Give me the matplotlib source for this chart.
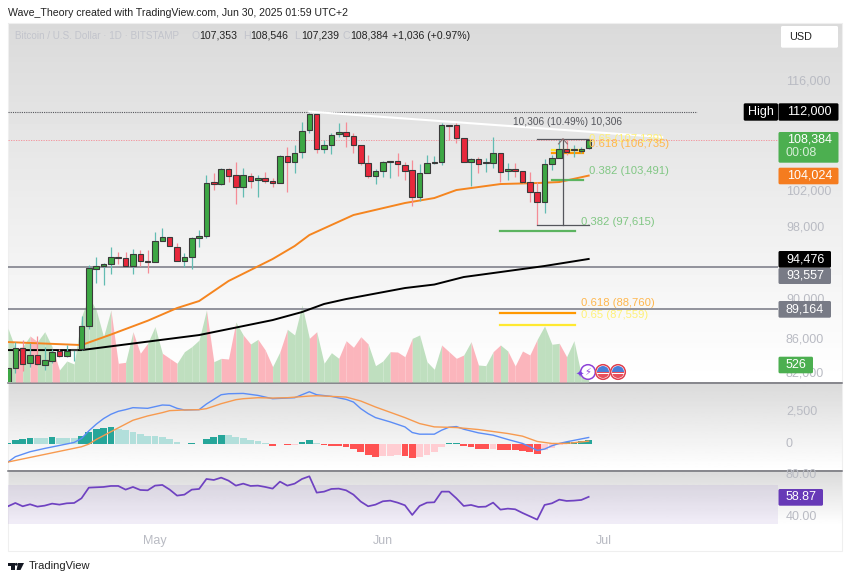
import numpy as np
import matplotlib
matplotlib.use("Agg")
import matplotlib.pyplot as plt
from matplotlib.patches import Circle, FancyBboxPatch, Polygon, Rectangle, Wedge

plt.rcParams['font.family'] = ['Liberation Sans', 'DejaVu Sans']

W, H = 850, 581

# day 0 is May 1
days = np.arange(-20, 60)
opens = [81980, 83293, 85238, 83775, 84552, 83582, 83968, 84943, 84455, 85040,
         85139, 87440, 93388, 93712, 93928, 94685, 94575, 93712, 95015, 94252,
         94144, 96454, 96901, 95788, 94252, 94685, 96789, 97013, 103253, 103015,
         104812, 104093, 102658, 103973, 103491, 103733, 103372, 103134, 106401, 105666,
         106893, 109643, 111690, 107259, 107759, 109139, 109391, 108887, 107759, 105544,
         103973, 104573, 105666, 105788, 105300, 104693, 101481, 104333, 105544, 105666,
         110282, 110282, 108636, 105666, 106032, 105544, 105544, 106770, 104573, 104812,
         104573, 103253, 102069, 100898, 105422, 106155, 107259, 107139, 107016, 107353]
highs = [83293, 85832, 86030, 85733, 86430, 85337, 85139, 85139, 85535, 85139,
         88450, 93820, 94685, 94036, 95788, 95235, 95235, 95566, 95455, 95455,
         97461, 97911, 96901, 96232, 95125, 96901, 97685, 104093, 104333, 104934,
         104934, 105666, 104934, 104333, 104093, 104453, 103733, 106524, 107509, 107759,
         110663, 111816, 111690, 108384, 109265, 110536, 110663, 109265, 107759, 106524,
         104812, 105788, 105788, 106770, 105666, 105910, 105422, 106524, 106401, 110536,
         110282, 110536, 108636, 106155, 106278, 106155, 108762, 106770, 105544, 105544,
         104573, 104453, 103253, 106032, 106524, 108384, 108384, 107759, 107509, 108546]
lows = [81980, 82814, 83005, 83389, 83582, 83100, 83775, 84357, 84357, 83968,
        85040, 87138, 91887, 91675, 92847, 93928, 93712, 92847, 93712, 92954,
        94144, 96454, 95899, 94252, 93604, 93388, 95788, 96789, 102303, 102896,
        103253, 100666, 101481, 102539, 101481, 103134, 102658, 103134, 102069, 104333,
        106155, 109265, 106770, 106770, 106647, 108762, 107509, 106770, 105300, 103733,
        103015, 103853, 103733, 103973, 103491, 100434, 101014, 104333, 105422, 105300,
        108384, 108009, 105666, 102777, 104333, 104453, 104934, 103253, 103491, 103853,
        103134, 100898, 98255, 99623, 104693, 106155, 106524, 106278, 106770, 107239]
closes = [83293, 85238, 83679, 84552, 83679, 84065, 84845, 84455, 84943, 85139,
          87440, 93496, 93712, 93928, 94685, 94575, 93712, 95015, 94252, 94144,
          96454, 96901, 95899, 94252, 94685, 96789, 97013, 103134, 103015, 104812,
          103973, 102658, 104093, 103372, 103733, 103372, 103134, 106401, 105666, 106770,
          109517, 111690, 107259, 107759, 109013, 109391, 108887, 107759, 105544, 103973,
          104573, 105666, 105788, 105422, 104573, 101481, 104333, 105544, 105666, 110282,
          110150, 108636, 105666, 106032, 105422, 105620, 106770, 104453, 104812, 104573,
          103253, 102069, 100898, 105422, 106155, 107259, 106893, 107259, 107259, 108384]
volumes = [7030, 4410, 4630, 6030, 5280, 6590, 4630, 1570, 2750, 2360,
           8560, 11180, 9430, 5940, 9430, 2450, 2580, 6590, 3760, 5070,
           7250, 3760, 3100, 2450, 3970, 4630, 5500, 9430, 2660, 3100,
           3010, 7860, 6160, 4980, 5590, 4190, 2010, 3970, 6900, 6160,
           10090, 5720, 6590, 2450, 3840, 3100, 5410, 4550, 5930, 4980,
           2140, 2750, 3970, 3930, 3310, 5720, 6160, 2660, 1660, 4850,
           3970, 3100, 3540, 5280, 2230, 2140, 3970, 4850, 4060, 2100,
           4060, 3540, 5590, 7340, 4940, 5070, 3310, 5410, 920, 526]

ma50_days = [-20, -10, -6, -1, 3, 6, 10, 16, 19, 21, 27, 34, 38, 41, 47, 52, 55, 59]
ma50_vals = [85832, 85535, 86580, 87970, 89270, 89995, 92100, 94470, 95899, 97125,
             99395, 100782, 101364, 102303, 103015, 103134, 103253, 104024]
ma200_days = [-20, -10, 6, 11, 16, 20, 23, 26, 34, 38, 42, 47, 53, 59]
ma200_vals = [85040, 85040, 86530, 87280, 88040, 88860, 89690, 90204, 91357, 91727,
              92526, 93061, 93712, 94476]

macd_hist = [80, 312, 416, 520, 500, 490, 572, 520, 510, 468,
             650, 1014, 1248, 1326, 1352, 1222, 1118, 988, 832, 660,
             650, 600, 416, 208, 26, 104, 52, 416, 572, 728,
             702, 572, 468, 338, 234, 78, -104, 52, -50, -26,
             182, 364, 130, -52, -104, -110, -208, -364, -598, -858,
             -962, -910, -884, -860, -910, -1040, -962, -806, -624, -234,
             78, 90, -104, -208, -338, -345, -330, -416, -420, -442,
             -520, -624, -728, -468, -260, -26, 182, 190, 234, 338]
macd_days = [-20, -19, -17, -15, -13, -11, -10, -9, -8, -7, -6, -5, -4, -3, -1, 1, 2, 3, 4, 6,
             7, 9, 10, 12, 14, 16, 18, 19, 21, 22, 24, 26, 27, 28, 29, 30, 32, 34, 35, 36,
             38, 39, 40, 41, 42, 44, 46, 48, 50, 51, 52, 53, 54, 55, 56, 59]
macd_vals = [-1378, -962, -572, -312, -78, 156, 468, 1066, 1586, 2028, 2366, 2600, 2730, 2886,
             2834, 3094, 3068, 2834, 2704, 2730, 3172, 3900, 3978, 4004, 3848, 3588, 3640, 3666,
             4134, 3900, 3770, 3536, 3328, 2808, 2418, 2106, 1768, 1378, 936, 806, 806, 1118,
             1352, 1404, 1196, 910, 728, 390, 78, -182, -468, -364, -104, 78, 208, 546]
signal_days = [-20, -10, -9, -8, -5, -3, -1, 1, 2, 4, 6, 7, 9, 11, 12, 14, 16, 18, 21, 22,
               26, 28, 30, 34, 36, 38, 41, 44, 48, 50, 52, 54, 56, 59]
signal_vals = [-1378, -182, 26, 390, 1300, 1898, 2236, 2496, 2652, 2704, 2730, 2808, 3198, 3510,
               3588, 3666, 3640, 3666, 3796, 3822, 3718, 3406, 2938, 2106, 1638, 1378, 1326,
               1170, 858, 650, 234, 78, 78, 260]

rsi = [50.14, 53.2, 50.14, 51.99, 49.83, 50.76, 52.6, 51.68, 52.9, 53.2,
       57.53, 67.38, 67.69, 68.0, 68.92, 68.92, 65.53, 68.0, 65.2, 64.9,
       69.23, 69.84, 65.53, 60.0, 60.9, 65.53, 66.15, 75.38, 74.46, 76.61,
       73.84, 69.23, 71.07, 68.92, 69.23, 68.0, 66.46, 72.92, 69.23, 71.07,
       75.38, 77.85, 62.76, 63.68, 66.15, 66.46, 64.9, 60.9, 54.45, 50.14,
       51.68, 54.76, 55.38, 53.53, 51.07, 42.14, 50.45, 53.53, 53.84, 63.68,
       63.68, 57.53, 50.45, 51.37, 49.53, 49.83, 53.53, 47.06, 47.99, 47.37,
       43.98, 40.91, 37.83, 51.37, 52.9, 56.3, 55.07, 55.38, 55.99, 58.87]

xtick_days = [0, 31, 61]
xtick_labels = ["May", "Jun", "Jul"]

level_high = 112000
level_last = 108384
levels_gray = [93557, 89164]
trend_days = [21, 69]
trend_vals = [112000, 108762]
measure_days = [52, 59]
measure_vals = [98240, 108546]
measure_mid = 55.5
fib_green = [(54, 58.2, 103491), (47, 57.1, 97615)]
fib_orange = [(54, 58.2, 106735), (47, 57.1, 88760)]
fib_yellow = [(54, 58.2, 107139), (47, 57.1, 87559)]

XMIN, XMAX = -20, 84.76
GREEN, RED = '#3da744', '#e8283c'
EDGE = '#3a3a3a'
TICK = '#b9bbc3'


def px_axes(left, top, right, bottom, z):
    a = fig.add_axes([left / W, 1 - bottom / H, (right - left) / W, (bottom - top) / H], zorder=z)
    a.patch.set_visible(False)
    return a


def hide(a):
    a.set_xticks([])
    a.set_yticks([])
    a.minorticks_off()
    for s in a.spines.values():
        s.set_visible(False)


fig = plt.figure(figsize=(W / 100, H / 100), dpi=100, facecolor='white')

# background gradients, in pixels
bg = px_axes(0, 0, W, H, 0)
bg.set_xlim(0, W)
bg.set_ylim(H, 0)
bg.axis('off')
for top, bottom in [(23, 382), (382, 470), (470, 525)]:
    grad = np.linspace(0.855, 1, 64).reshape(-1, 1)
    bg.imshow(grad, cmap='gray', vmin=0, vmax=1, extent=(8, 842, bottom, top), aspect='auto')
bg.set_xlim(0, W)
bg.set_ylim(H, 0)
bg.add_patch(Rectangle((8, 23), 834, 528, fill=False, ec='#efefef', lw=0.8))
for y in [382.5, 470.5]:
    bg.plot([8, 842], [y, y], color='#6f7077', lw=1.1)

# volume under the candles
vol = px_axes(8, 23, 778, 382, 1)
vol.set_xlim(XMIN, XMAX)
vol.set_ylim(0, 47029)
hide(vol)
for i in range(1, len(days)):
    up = closes[i] >= opens[i]
    vol.fill_between(days[i - 1:i + 1], volumes[i - 1:i + 1], 0,
                     color='#bfdfbf' if up else '#fbb5bc', lw=0)

# price pane
ax = px_axes(8, 23, 778, 382, 2)
ax.set_yscale('log')
ax.set_xlim(XMIN, XMAX)
ax.set_ylim(81963, 124070)
hide(ax)

ax.plot([XMIN, 73.8], [level_high, level_high], color='#55565c', lw=0.8, ls=(0, (1, 1)))
ax.plot([XMIN, XMAX], [level_last, level_last], color='#f58a94', lw=0.6, ls=(0, (1.5, 1.5)))
for lv in levels_gray:
    ax.plot([XMIN, XMAX], [lv, lv], color='#80828c', lw=1.2)
ax.plot(trend_days, trend_vals, color='white', lw=1.5)
ax.plot(ma50_days, ma50_vals, color='#f5851f', lw=1.4)
ax.plot(ma200_days, ma200_vals, color='black', lw=1.4)

for d, o, h, l, c in zip(days, opens, highs, lows, closes):
    up = c >= o
    ax.vlines(d, l, h, color='#62bcb2' if up else '#f58c96', lw=0.9, zorder=4)
    ax.bar(d, max(abs(c - o), 60), bottom=min(o, c), width=0.76,
           color=GREEN if up else RED, edgecolor=EDGE, lw=0.8, zorder=5)

for x0, x1, v in fib_green:
    ax.plot([x0, x1], [v, v], color='#5cb460', lw=1.6, zorder=3)
for x0, x1, v in fib_orange:
    ax.plot([x0, x1], [v, v], color='#ff9800', lw=1.6, zorder=3)
for x0, x1, v in fib_yellow:
    ax.plot([x0, x1], [v, v], color='#ffe930', lw=1.6, zorder=3)

# measure tool
for v in measure_vals:
    ax.plot(measure_days, [v, v], color='#55565c', lw=0.9, zorder=6)
ax.plot([measure_mid, measure_mid], measure_vals, color='#55565c', lw=0.9, zorder=6)
ax.plot([measure_mid - 0.6, measure_mid, measure_mid + 0.6], [107900, 108546, 107900],
        color='#8a6a6e', lw=0.8, zorder=6)

# MACD pane
mc = px_axes(8, 382.5, 778, 470, 2)
mc.set_xlim(XMIN, XMAX)
mc.set_ylim(-2005, 4860)
hide(mc)
colors = []
for i, v in enumerate(macd_hist):
    prev = macd_hist[i - 1] if i else 0
    if v >= 0:
        colors.append('#26a69a' if v >= prev else '#b2dfdb')
    else:
        colors.append('#ff5252' if v < prev else '#ffcdd2')
mc.bar(days, macd_hist, width=0.92, color=colors, lw=0)
mc.plot(macd_days, macd_vals, color='#5c8df6', lw=1.0)
mc.plot(signal_days, signal_vals, color='#f79a4f', lw=1.0)

# RSI pane, time axis under it
rs = px_axes(8, 470.5, 778, 524.3, 2)
rs.set_xlim(XMIN, XMAX)
rs.set_ylim(33.5, 83.2)
for s in rs.spines.values():
    s.set_visible(False)
rs.set_yticks([])
rs.axhspan(30, 70, color='#7e57c2', alpha=0.1, lw=0)
rs.plot(days, rsi, color='#6f42c1', lw=1.25)
rs.set_xticks(xtick_days, xtick_labels)
rs.tick_params(axis='x', length=0, pad=8, labelsize=9, labelcolor=TICK)

# texts and labels, in pixels
ov = px_axes(0, 0, W, H, 10)
ov.set_xlim(0, W)
ov.set_ylim(H, 0)
ov.axis('off')


def txt(x, y, s, color, size=7.6, ha='left', z=5, **kw):
    ov.text(x, y, s, color=color, fontsize=size, ha=ha, va='center', zorder=z, **kw)


def box(x0, y0, x1, y1, color, z=4):
    ov.add_patch(FancyBboxPatch((x0 + 1, y0 + 1), x1 - x0 - 2, y1 - y0 - 2,
                                boxstyle='round,pad=1,rounding_size=1.5', fc=color, ec='none', zorder=z))


txt(8, 13, "Wave_Theory created with TradingView.com, Jun 30, 2025 01:59 UTC+2", '#222222', 7.6)
txt(15, 36, "Bitcoin / U.S. Dollar · 1D · BITSTAMP", '#c2c4cc', 7.1)
for x, s, c in [(191.5, 'O', '#c2c4cc'), (199, '107,353', '#222222'),
                (243, 'H', '#c2c4cc'), (250, '108,546', '#222222'),
                (294, 'L', '#c2c4cc'), (301, '107,239', '#222222'),
                (343, 'C', '#c2c4cc'), (350, '108,384', '#222222'),
                (392, '+1,036 (+0.97%)', '#222222')]:
    txt(x, 36, s, c, 7.6)

# price scale ticks
for y, s in [(81, '116,000'), (192, '102,000'), (227, '98,000'), (300, '90,000'),
             (340, '86,000'), (373, '82,000'), (412, '2,500'), (444, '0'),
             (474.5, '80.00'), (517.5, '40.00')]:
    txt(786, y, s, TICK, 9, z=3)

box(781, 26, 838, 47.7, 'white')
txt(789, 37, 'USD', '#222222', 7.8)

box(743.7, 103.3, 778, 120.7, 'black')
txt(761, 112, 'High', 'white', 9, ha='center')
box(778.5, 103.3, 838.5, 120.7, 'black')
txt(787, 112, '112,000', 'white', 9)
box(778.5, 132, 838.5, 162.7, '#4caf50')
txt(787, 140, '108,384', 'white', 9)
txt(786, 153.5, '00:08', '#d7efd8', 9)
box(778.5, 167.7, 838.5, 184.3, '#f57c1f')
txt(787, 176, '104,024', 'white', 9)
box(778.5, 268, 831, 284, '#787b86')
txt(786, 275.5, '93,557', 'white', 9)
box(778.5, 251, 831, 267.7, 'black')
txt(786, 259, '94,476', 'white', 9)
box(778.5, 301, 831, 317.7, '#787b86')
txt(786, 309, '89,164', 'white', 9)
box(778.5, 356.7, 813, 373.3, '#4caf50')
txt(786, 365, '526', 'white', 9)
box(778.5, 489, 823, 505.7, '#673ab7')
txt(786, 497.5, '58.87', 'white', 9)

# fib and measure labels
txt(513, 122, "10,306 (10.49%) 10,306", '#55565c', 7.3)
txt(589, 139, "0.65 (107,139)", '#fff176', 8.1, z=1)
txt(589, 144, "0.618 (106,735)", '#ffb74d', 8.1, z=2)
txt(589, 171, "0.382 (103,491)", '#81c784', 8.1, z=2)
txt(581.5, 221.7, "0.382 (97,615)", '#81c784', 8.1, z=2)
txt(581, 303, "0.618 (88,760)", '#ffb74d', 8.1, z=2)
txt(581, 315, "0.65 (87,559)", '#fff176', 8.1, z=2)

# event icons at the last bar
ov.add_patch(Circle((588, 372), 7.3, fc='white', ec='#8e44d8', lw=1.1, zorder=6))
txt(588, 372, "⚡", '#8e44d8', 7, ha='center', z=7, family=['DejaVu Sans'])
txt(579.5, 375, "✦", '#7a3fe0', 7, ha='center', z=7, family=['DejaVu Sans'])
for cx in [603, 618]:
    ov.add_patch(Circle((cx, 372), 7.3, fc='white', ec='#e0404e', lw=1.1, zorder=6))
    ov.add_patch(Wedge((cx, 372), 6, 180, 360, fc='#4a7fd8', ec='none', zorder=7))
    ov.add_patch(Wedge((cx, 372), 6, 0, 180, fc='#e8505c', ec='none', zorder=7))
    ov.add_patch(Rectangle((cx - 6, 372.7), 12, 1.6, fc='white', ec='none', zorder=8))

# TradingView logo
ov.add_patch(Polygon([(8.3, 563), (14.6, 563), (14.6, 570), (11.4, 570), (11.4, 565.6), (8.3, 565.6)],
                     fc='#131722', ec='none'))
ov.add_patch(Circle((16.3, 564.3), 1.4, fc='#131722', ec='none'))
ov.add_patch(Polygon([(18, 563), (24, 563), (20.5, 570), (16.6, 570)], fc='#131722', ec='none'))
txt(28.5, 566, "TradingView", '#222222', 8)

fig.savefig('out.png', dpi=100)
